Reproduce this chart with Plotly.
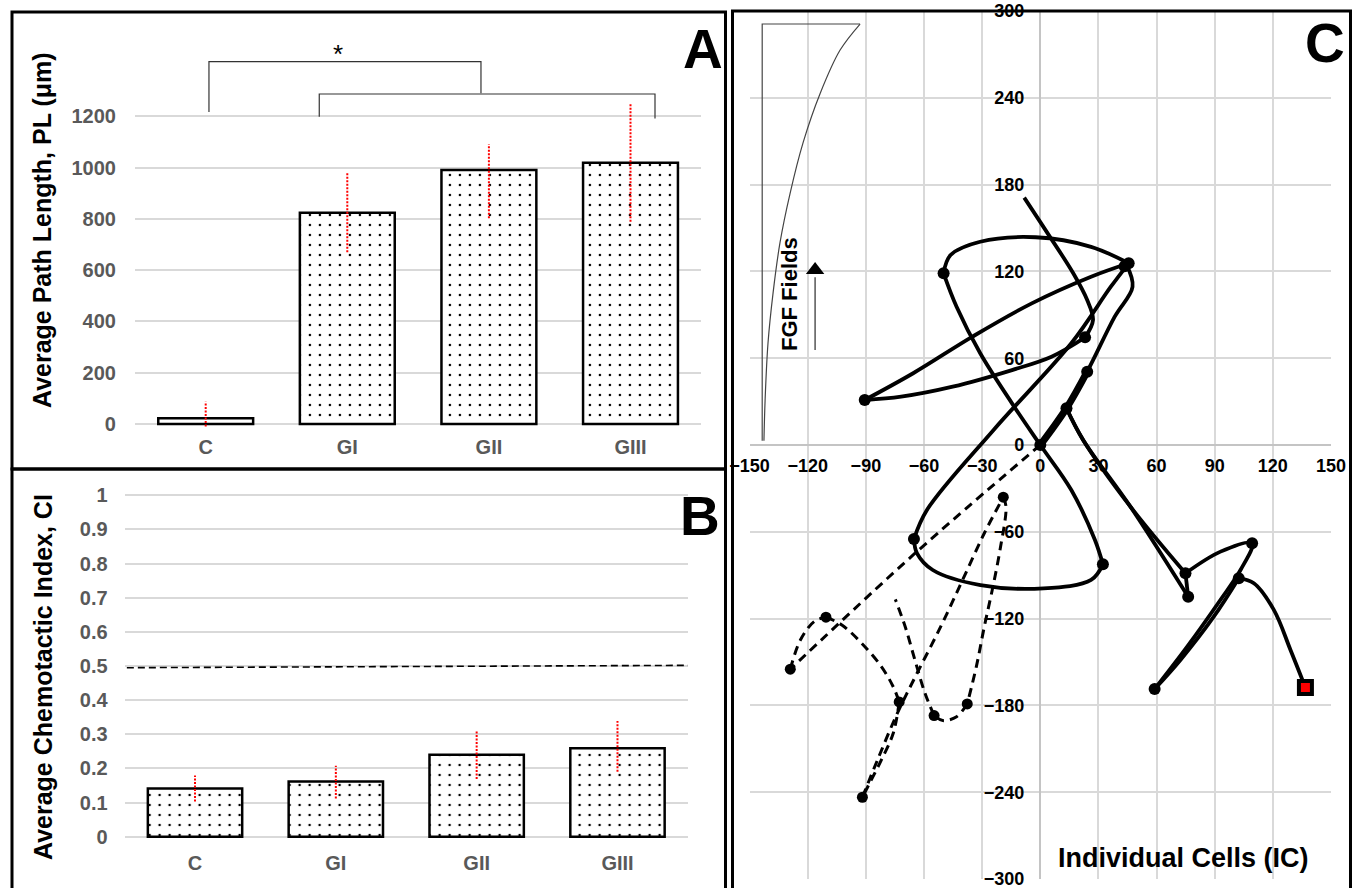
import plotly.graph_objects as go

W, H = 1354, 888

# ---------------- data: panels A and B ----------------
categories = ["C", "GI", "GII", "GIII"]
cat_pos = [0, 1, 2, 3]

pl_mean = [22, 824, 991, 1019]
pl_err_plus = [65, 158, 100, 232]
pl_err_minus = [32, 154, 189, 230]
pl_ticks = [0, 200, 400, 600, 800, 1000, 1200]

ci_mean = [0.141, 0.162, 0.240, 0.259]
ci_err_plus = [0.038, 0.046, 0.071, 0.080]
ci_err_minus = [0.038, 0.050, 0.071, 0.069]
ci_ticks = [0, 0.1, 0.2, 0.3, 0.4, 0.5, 0.6, 0.7, 0.8, 0.9, 1.0]
ci_tick_labels = ["0", "0.1", "0.2", "0.3", "0.4", "0.5", "0.6", "0.7", "0.8", "0.9", "1"]

bracket1_x = [0.023, 0.023, 1.944, 1.944]
bracket1_y = [1217, 1413, 1413, 1290]
bracket2_x = [0.802, 0.802, 3.173, 3.173]
bracket2_y = [1198, 1287, 1287, 1191]
star_x, star_y = 0.934, 1443

threshold_x = [-0.484, 3.548]
threshold_y = [0.495, 0.502]

# ---------------- data: panel C ----------------
c_xticks = [-150, -120, -90, -60, -30, 0, 30, 60, 90, 120, 150]
c_yticks = [-300, -240, -180, -120, -60, 0, 60, 120, 180, 240, 300]

solid_paths = [
    [(-8.3, 171), (3.8, 146.3), (17, 118.7), (24.2, 100.2), (27.2, 86.4), (23.1, 74.4)],
    [(23.1, 74.4), (5.8, 61), (-14.6, 51.8), (-45.2, 40.3), (-71.8, 33.4), (-90.6, 31.1)],
    [(-90.6, 31.1), (-65.6, 49.6), (-35, 74.9), (-4.4, 97.9), (26.2, 116.3), (45.6, 125.6)],
    [(45.6, 125.6), (26.2, 137), (-2.4, 143.6), (-31, 140.5), (-46.3, 131.3), (-49.9, 118.7)],
    [(-49.9, 118.7), (-43.2, 95.6), (-31, 63.4), (-14.6, 28.8), (0, 0), (16, -31.1), (28.2, -65.7), (32.3, -82.5)],
    [(32.3, -82.5), (26.2, -93.3), (1.7, -99.1), (-30.9, -96.8), (-55.5, -86.4), (-63.6, -74.9), (-65.2, -65)],
    [(-65.2, -65), (-58.5, -44.9), (-24.1, 10.4), (16, 70.3), (36.4, 109.4), (45.6, 125.6)],
    [(44.5, 124.5), (47.6, 109.4), (38.4, 88.7), (24.2, 50.7), (13.5, 25.4), (0, 0)],
    [(13.5, 25.4), (22.1, 3.5), (46.5, -42.6), (76.3, -104.9)],
    [(13.5, 25.4), (22.1, 3.5), (46.5, -42.6), (74.9, -88.7)],
    [(76.3, -104.9), (74.9, -88.7)],
    [(74.9, -88.7), (93, -73.7), (109.3, -67.9), (103.3, -86.4), (93, -107), (75.8, -139.4), (59, -168.7)],
    [(59, -168.7), (72.3, -148.6), (89.5, -118.7), (102.4, -92.1)],
    [(102.4, -92.1), (110.2, -95.6), (120.5, -114), (129.1, -141.7), (136.8, -167.7)],
]
solid_thick = [(0, 0), (13.5, 25.4), (24.2, 50.7)]
solid_markers = [(0, 0), (-49.9, 118.7), (45.6, 125.6), (43.5, 123.5), (23.1, 74.4), (24.2, 50.7),
                 (13.5, 25.4), (-90.6, 31.1), (-65.2, -65), (32.3, -82.5), (74.9, -88.7),
                 (76.3, -104.9), (109.3, -67.9), (102.4, -92.1), (59, -168.7)]
end_marker = [(136.8, -167.7)]

dashed_paths = [
    [(0, 0), (-65.6, -76), (-129, -155)],
    [(-129, -155), (-123.8, -134.8), (-116.7, -122.1), (-110.6, -119)],
    [(-110.6, -119), (-102.4, -124.4), (-92.2, -137), (-82, -153.2), (-75.9, -167.1), (-72.8, -177.6)],
    [(-72.8, -177.6), (-75.9, -199.3), (-82, -217.7), (-88.1, -233.8), (-91.8, -243.5)],
    [(-91.8, -243.5), (-84, -217.7), (-73.8, -185.5), (-63.6, -157.8), (-51.4, -125.6), (-40.1, -93.3),
     (-28.9, -61), (-19.1, -36.1)],
    [(-19.1, -36.1), (-17.7, -42.6), (-20.8, -72.6), (-24.8, -100.2), (-28.9, -125.6), (-33, -153.2), (-37.7, -179)],
    [(-37.7, -179), (-43.2, -187.8), (-50.3, -190.5), (-54.8, -187)],
    [(-54.8, -187), (-59.5, -171.6), (-64.7, -148.6), (-69.7, -125.6), (-74.8, -106.7)],
]
dashed_markers = [(-19.1, -36.1), (-110.6, -119), (-129, -155), (-72.8, -177.6), (-54.8, -187),
                  (-37.7, -179), (-91.8, -243.5)]

fgf_curve = [(-93, 291), (-103.3, 273), (-113.6, 243), (-122.4, 209), (-129.1, 174), (-134.3, 140),
             (-137.9, 105), (-140.5, 70.5), (-142, 31), (-142.6, 3)]
fgf_frame = [(-93, 291), (-143.5, 291), (-143.5, 3)]
arrow_x = -116.2
arrow_y = [65.7, 116]
arrow_head_y = 121


def px(x):
    return x / W


def py(y):
    return 1 - y / H


FONT = "Liberation Sans, Arial, sans-serif"
GRID = "#d9d9d9"
TICKGREY = "#595959"

fig = go.Figure()

# ---------------- Panel A ----------------
bar_marker = dict(color="white", line=dict(color="black", width=2.5),
                  pattern=dict(shape=".", fgcolor="black", bgcolor="white", size=10, solidity=0.05))
fig.add_trace(go.Bar(x=cat_pos, y=pl_mean, width=0.67, xaxis="x", yaxis="y", marker=bar_marker,
                     showlegend=False, hoverinfo="skip"))
ex, ey = [], []
for i, m, p, n in zip(cat_pos, pl_mean, pl_err_plus, pl_err_minus):
    ex += [i, i, None]
    ey += [m - n, m + p, None]
fig.add_trace(go.Scatter(x=ex, y=ey, mode="lines", xaxis="x", yaxis="y",
                         line=dict(color="#ff0000", width=2, dash="2px,1.5px"),
                         showlegend=False, hoverinfo="skip"))
for bx, by in [(bracket1_x, bracket1_y), (bracket2_x, bracket2_y)]:
    fig.add_trace(go.Scatter(x=bx, y=by, mode="lines", xaxis="x", yaxis="y",
                             line=dict(color="#333333", width=1.2),
                             showlegend=False, hoverinfo="skip"))

# ---------------- Panel B ----------------
fig.add_trace(go.Bar(x=cat_pos, y=ci_mean, width=0.67, xaxis="x2", yaxis="y2", marker=bar_marker,
                     showlegend=False, hoverinfo="skip"))
ex, ey = [], []
for i, m, p, n in zip(cat_pos, ci_mean, ci_err_plus, ci_err_minus):
    ex += [i, i, None]
    ey += [m - n, m + p, None]
fig.add_trace(go.Scatter(x=ex, y=ey, mode="lines", xaxis="x2", yaxis="y2",
                         line=dict(color="#ff0000", width=2, dash="2px,1.5px"),
                         showlegend=False, hoverinfo="skip"))
fig.add_trace(go.Scatter(x=threshold_x, y=threshold_y, mode="lines", xaxis="x2", yaxis="y2",
                         line=dict(color="black", width=1.6, dash="7px,4px"),
                         showlegend=False, hoverinfo="skip"))

# ---------------- Panel C ----------------
fig.add_trace(go.Scatter(x=[p[0] for p in fgf_frame], y=[p[1] for p in fgf_frame], mode="lines",
                         xaxis="x3", yaxis="y3", line=dict(color="#444444", width=1.2),
                         showlegend=False, hoverinfo="skip"))
fig.add_trace(go.Scatter(x=[p[0] for p in fgf_curve], y=[p[1] for p in fgf_curve], mode="lines",
                         xaxis="x3", yaxis="y3", line=dict(color="#444444", width=1.2, shape="spline"),
                         showlegend=False, hoverinfo="skip"))
fig.add_trace(go.Scatter(x=[arrow_x, arrow_x], y=arrow_y, mode="lines", xaxis="x3", yaxis="y3",
                         line=dict(color="#555555", width=1.5), showlegend=False, hoverinfo="skip"))
fig.add_trace(go.Scatter(x=[arrow_x], y=[arrow_head_y], mode="markers", xaxis="x3", yaxis="y3",
                         marker=dict(symbol="triangle-up", size=16, color="black"),
                         showlegend=False, hoverinfo="skip"))

for path in dashed_paths:
    fig.add_trace(go.Scatter(x=[p[0] for p in path], y=[p[1] for p in path], mode="lines",
                             xaxis="x3", yaxis="y3",
                             line=dict(color="black", width=3, dash="9px,6px", shape="spline"),
                             showlegend=False, hoverinfo="skip"))
for path in solid_paths:
    fig.add_trace(go.Scatter(x=[p[0] for p in path], y=[p[1] for p in path], mode="lines",
                             xaxis="x3", yaxis="y3",
                             line=dict(color="black", width=3.8, shape="spline"),
                             showlegend=False, hoverinfo="skip"))
fig.add_trace(go.Scatter(x=[p[0] for p in solid_thick], y=[p[1] for p in solid_thick], mode="lines",
                         xaxis="x3", yaxis="y3", line=dict(color="black", width=7, shape="spline"),
                         showlegend=False, hoverinfo="skip"))
fig.add_trace(go.Scatter(x=[p[0] for p in dashed_markers], y=[p[1] for p in dashed_markers],
                         mode="markers", xaxis="x3", yaxis="y3",
                         marker=dict(symbol="circle", size=11, color="black"),
                         showlegend=False, hoverinfo="skip"))
fig.add_trace(go.Scatter(x=[p[0] for p in solid_markers], y=[p[1] for p in solid_markers],
                         mode="markers", xaxis="x3", yaxis="y3",
                         marker=dict(symbol="circle", size=12, color="black"),
                         showlegend=False, hoverinfo="skip"))
fig.add_trace(go.Scatter(x=[p[0] for p in end_marker], y=[p[1] for p in end_marker],
                         mode="markers", xaxis="x3", yaxis="y3",
                         marker=dict(symbol="square", size=13, color="#ff0000",
                                     line=dict(color="black", width=4)),
                         showlegend=False, hoverinfo="skip"))

# ---------------- layout ----------------
tick_grey = dict(family=FONT, size=20, color=TICKGREY, weight="bold")
tick_black = dict(family=FONT, size=18, color="black", weight="bold")

fig.update_layout(
    template="none",
    width=W, height=H, margin=dict(l=0, r=0, t=0, b=0, pad=0, autoexpand=False),
    paper_bgcolor="white", plot_bgcolor="white", showlegend=False,
    font=dict(family=FONT),
    xaxis=dict(domain=[px(134.9), px(701.3)], range=[-0.5, 3.5], anchor="y", automargin=False,
               tickvals=cat_pos, ticktext=categories, showgrid=False, zeroline=False,
               showline=False, ticks="", tickfont=tick_grey, ticklabelstandoff=3),
    yaxis=dict(domain=[py(430), py(20)], range=[-23.4, 1575.6], anchor="x", automargin=False,
               tickvals=pl_ticks, showgrid=True, gridcolor=GRID, gridwidth=1.5, zeroline=False,
               showline=False, ticks="", tickfont=tick_grey, ticklabelstandoff=18),
    xaxis2=dict(domain=[px(124.6), px(687.9)], range=[-0.5, 3.5], anchor="y2", automargin=False,
                tickvals=cat_pos, ticktext=categories, showgrid=False, zeroline=False,
                showline=False, ticks="", tickfont=tick_grey, ticklabelstandoff=4),
    yaxis2=dict(domain=[py(845), py(480)], range=[-0.0243, 1.0448], anchor="x2", automargin=False,
                tickvals=ci_ticks, ticktext=ci_tick_labels, showgrid=True, gridcolor=GRID,
                gridwidth=1.5, zeroline=False, showline=False, ticks="", tickfont=tick_grey,
                ticklabelstandoff=16),
    xaxis3=dict(domain=[px(749.6), px(1331)], range=[-150, 150], anchor="free", position=py(445),
                automargin=False, tickvals=c_xticks, showgrid=True, gridcolor=GRID, gridwidth=1.5,
                zeroline=True, zerolinecolor="#c4c4c4", zerolinewidth=2, showline=False, ticks="",
                tickfont=tick_black, ticklabelstandoff=8, ticklabeloverflow="allow"),
    yaxis3=dict(domain=[py(879), py(11)], range=[-300, 300], anchor="free", position=px(1040.3),
                automargin=False, tickvals=c_yticks, showgrid=True, gridcolor=GRID, gridwidth=1.5,
                zeroline=True, zerolinecolor="#c4c4c4", zerolinewidth=2, showline=False, ticks="",
                tickfont=tick_black, ticklabelstandoff=16, ticklabeloverflow="allow"),
)

# frames
frames = [
    (12, 12, 725.5, 469),
    (12, 469, 725.5, 920),
    (732.5, 11, 1350.5, 920),
]
for x0, y0, x1, y1 in frames:
    fig.add_shape(type="rect", xref="paper", yref="paper", x0=px(x0), x1=px(x1), y0=py(y1), y1=py(y0),
                  line=dict(color="black", width=3), fillcolor="rgba(0,0,0,0)", layer="above")

ann = []
ann.append(dict(x=px(703), y=py(49), xref="paper", yref="paper", text="<b>A</b>", showarrow=False,
                font=dict(family=FONT, size=55, color="black"), xanchor="center", yanchor="middle"))
ann.append(dict(x=px(700), y=py(516), xref="paper", yref="paper", text="<b>B</b>", showarrow=False,
                font=dict(family=FONT, size=55, color="black"), xanchor="center", yanchor="middle"))
ann.append(dict(x=px(1325), y=py(43), xref="paper", yref="paper", text="<b>C</b>", showarrow=False,
                font=dict(family=FONT, size=55, color="black"), xanchor="center", yanchor="middle"))
ann.append(dict(x=px(42), y=py(230), xref="paper", yref="paper",
                text="<b>Average Path Length, PL (\u03bcm)</b>", textangle=-90, showarrow=False,
                font=dict(family=FONT, size=25, color="black"), xanchor="center", yanchor="middle"))
ann.append(dict(x=px(43), y=py(677), xref="paper", yref="paper",
                text="<b>Average Chemotactic Index, CI</b>", textangle=-90, showarrow=False,
                font=dict(family=FONT, size=25, color="black"), xanchor="center", yanchor="middle"))
ann.append(dict(x=star_x, y=star_y, xref="x", yref="y", text="*", showarrow=False,
                font=dict(family=FONT, size=26, color="black"), xanchor="center", yanchor="middle"))
ann.append(dict(x=px(1183), y=py(858), xref="paper", yref="paper", text="<b>Individual Cells (IC)</b>",
                showarrow=False, font=dict(family=FONT, size=27, color="black"),
                xanchor="center", yanchor="middle"))
ann.append(dict(x=px(789), y=py(294), xref="paper", yref="paper", text="<b>FGF Fields</b>",
                textangle=-90, showarrow=False, font=dict(family=FONT, size=22, color="black"),
                xanchor="center", yanchor="middle"))
fig.update_layout(annotations=ann)

fig.write_html("out.html", config={"displayModeBar": False},
               post_script="document.body.style.margin='0';document.body.style.overflow='hidden';")
